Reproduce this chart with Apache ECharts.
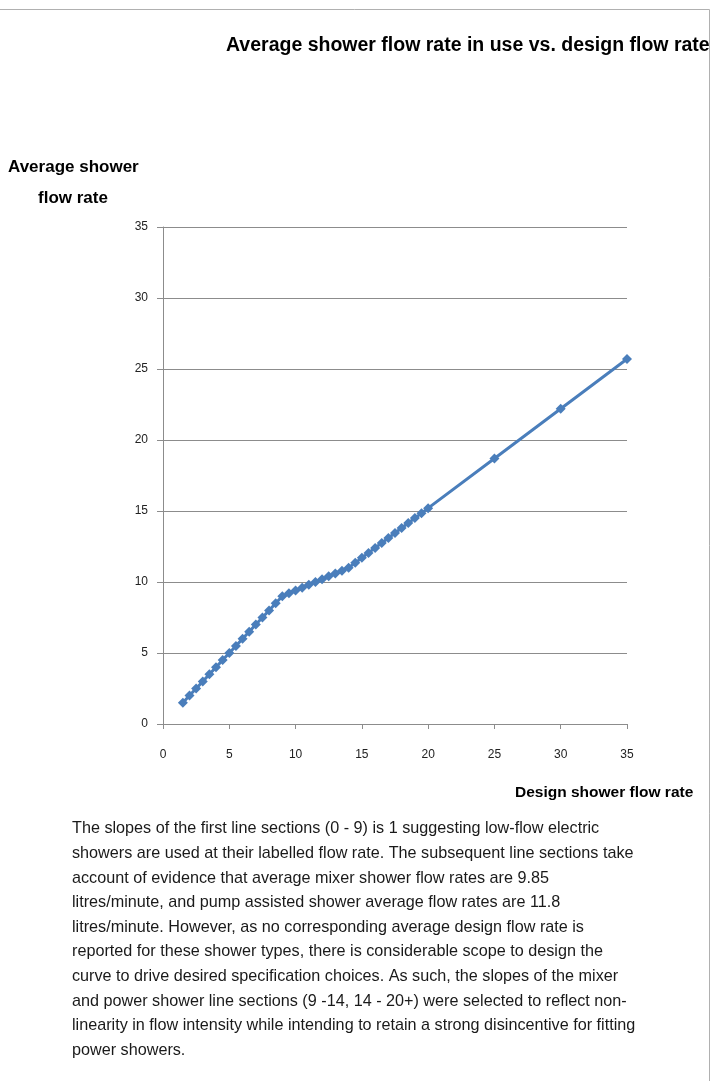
<!DOCTYPE html>
<html>
<head>
<meta charset="utf-8">
<title>Average shower flow rate in use vs. design flow rate</title>
<script src="https://cdn.jsdelivr.net/npm/echarts@6/dist/echarts.min.js"></script>
<style>
  html, body { margin: 0; padding: 0; background: #ffffff; }
  #chart { width: 712px; height: 1081px; }
</style>
</head>
<body>
<div id="chart"></div>
<script>
// Design flow rate (litres/minute) on the horizontal axis
const designFlow = [
  1.5, 2, 2.5, 3, 3.5, 4, 4.5, 5, 5.5, 6, 6.5, 7, 7.5, 8, 8.5, 9,
  9.5, 10, 10.5, 11, 11.5, 12, 12.5, 13, 13.5, 14,
  14.5, 15, 15.5, 16, 16.5, 17, 17.5, 18, 18.5, 19, 19.5, 20,
  25, 30, 35
];
// Average flow rate in use for each design flow rate
const averageFlow = [
  1.5, 2, 2.5, 3, 3.5, 4, 4.5, 5, 5.5, 6, 6.5, 7, 7.5, 8, 8.5, 9,
  9.2, 9.4, 9.6, 9.8, 10.0, 10.2, 10.4, 10.6, 10.8, 11.0,
  11.35, 11.7, 12.05, 12.4, 12.75, 13.1, 13.45, 13.8, 14.15, 14.5, 14.85, 15.2,
  18.7, 22.2, 25.7
];
const axisTicks = [0, 5, 10, 15, 20, 25, 30, 35];

const chartTitle = 'Average shower flow rate in use vs. design flow rate';
const yNameLines = ['Average shower', 'flow rate'];
const xName = 'Design shower flow rate';
const noteLines = [
  'The slopes of the first line sections (0 - 9) is 1 suggesting low-flow electric',
  'showers are used at their labelled flow rate. The subsequent line sections take',
  'account of evidence that average mixer shower flow rates are 9.85',
  'litres/minute, and pump assisted shower average flow rates are 11.8',
  'litres/minute. However, as no corresponding average design flow rate is',
  'reported for these shower types, there is considerable scope to design the',
  'curve to drive desired specification choices. As such, the slopes of the mixer',
  'and power shower line sections (9 -14, 14 - 20+) were selected to reflect non-',
  'linearity in flow intensity while intending to retain a strong disincentive for fitting',
  'power showers.'
];

const FONT = "'Liberation Sans', Arial, sans-serif";
const axisMin = axisTicks[0];
const axisMax = axisTicks[axisTicks.length - 1];
const axisStep = axisTicks[1] - axisTicks[0];

const points = designFlow.map((x, i) => [x, averageFlow[i]]);

const chart = echarts.init(document.getElementById('chart'), null, { renderer: 'canvas' });

const noteGraphics = noteLines.map((line, i) => ({
  type: 'text',
  left: 72,
  top: 821 + i * 24.6,
  style: { text: line, font: '16.2px ' + FONT, fill: '#1a1a1a' }
}));

chart.setOption({
  backgroundColor: '#ffffff',
  animation: false,
  grid: { left: 163, top: 227, width: 464, height: 497, containLabel: false },
  xAxis: {
    type: 'value',
    min: axisMin, max: axisMax, interval: axisStep,
    axisLine: { show: true, lineStyle: { color: '#8c8c8c', width: 1 } },
    axisTick: { show: true, length: 5, lineStyle: { color: '#8c8c8c' } },
    axisLabel: { margin: 25, color: '#222', fontSize: 12, fontFamily: FONT },
    splitLine: { show: false }
  },
  yAxis: {
    type: 'value',
    min: axisMin, max: axisMax, interval: axisStep,
    axisLine: { show: true, lineStyle: { color: '#8c8c8c', width: 1 } },
    axisTick: { show: true, length: 6, lineStyle: { color: '#8c8c8c' } },
    axisLabel: { margin: 15, color: '#222', fontSize: 12, fontFamily: FONT },
    splitLine: { show: true, lineStyle: { color: '#8c8c8c', width: 1 } }
  },
  series: [{
    type: 'line',
    data: points,
    symbol: 'diamond',
    symbolSize: 10,
    showAllSymbol: true,
    lineStyle: { color: '#4a7ebb', width: 3 },
    itemStyle: { color: '#4a7ebb' }
  }],
  graphic: [
    // frame lines along the top and right edges
    { type: 'line', shape: { x1: 0, y1: 9.5, x2: 709.5, y2: 9.5 }, style: { stroke: '#b0b0b0', lineWidth: 1 } },
    { type: 'line', shape: { x1: 709.5, y1: 9.5, x2: 709.5, y2: 1081 }, style: { stroke: '#b0b0b0', lineWidth: 1 } },
    {
      type: 'text', left: 226, top: 36,
      style: { text: chartTitle, font: 'bold 19.5px ' + FONT, fill: '#000' }
    },
    {
      type: 'text', left: 8, top: 159,
      style: { text: yNameLines[0], font: 'bold 17px ' + FONT, fill: '#000' }
    },
    {
      type: 'text', left: 38, top: 190,
      style: { text: yNameLines[1], font: 'bold 17px ' + FONT, fill: '#000' }
    },
    {
      type: 'text', left: 515, top: 785,
      style: { text: xName, font: 'bold 15.5px ' + FONT, fill: '#000' }
    }
  ].concat(noteGraphics)
});
</script>
</body>
</html>
